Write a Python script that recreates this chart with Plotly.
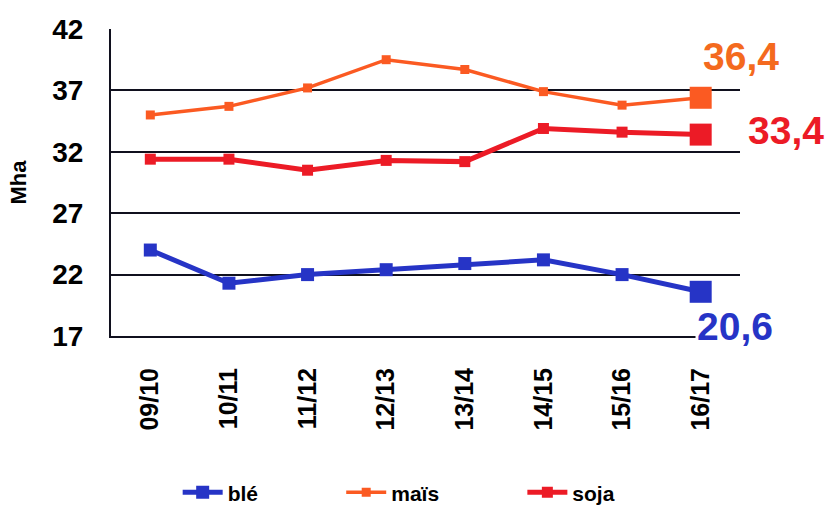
import plotly.graph_objects as go

# Surfaces cultivées (millions d'hectares) par campagne
campagnes = ["09/10", "10/11", "11/12", "12/13", "13/14", "14/15", "15/16", "16/17"]
ble = [24.0, 21.3, 22.0, 22.4, 22.9, 23.2, 22.0, 20.6]
mais = [35.0, 35.7, 37.2, 39.5, 38.7, 36.9, 35.8, 36.4]
soja = [31.4, 31.4, 30.5, 31.3, 31.2, 33.9, 33.6, 33.4]

y_ticks = [17, 22, 27, 32, 37, 42]

C_BLE = "#2634c6"
C_MAIS = "#fb5a22"
C_SOJA = "#ec1b26"
C_MAIS_TXT = "#f46a1e"
C_AXE = "#10101e"

FONT = "Liberation Sans, Arial, sans-serif"

series = [
    ("blé", ble, C_BLE, 5, 13, "legend"),
    ("maïs", mais, C_MAIS, 3.5, 9, "legend2"),
    ("soja", soja, C_SOJA, 5, 11, "legend3"),
]

fig = go.Figure()
for name, vals, col, lw, ms, lg in series:
    fig.add_trace(go.Scatter(
        x=campagnes, y=vals, name=name, mode="lines+markers",
        line=dict(color=col, width=lw),
        marker=dict(symbol="square", size=ms, color=col),
        legend=lg,
    ))
    # dernière campagne mise en valeur
    fig.add_trace(go.Scatter(
        x=campagnes[-1:], y=vals[-1:], mode="markers",
        marker=dict(symbol="square", size=22, color=col),
        showlegend=False, hoverinfo="skip",
    ))

# étiquettes des valeurs finales
labels = [
    (mais[-1], C_MAIS_TXT, 0, 41),
    (soja[-1], C_SOJA, 45, 4),
    (ble[-1], C_BLE, -6, -35),
]
for val, col, dx, dy in labels:
    fig.add_annotation(
        x=campagnes[-1], y=val, xref="x", yref="y",
        text=f"{val:.1f}".replace(".", ","), showarrow=False,
        xanchor="left", xshift=dx, yshift=dy,
        font=dict(family=FONT, size=39, color=col, weight="bold"),
        bgcolor="white",
    )

legend_common = dict(
    orientation="h", yref="container", yanchor="middle", y=0.032,
    xanchor="left",
    font=dict(family=FONT, size=21, color="black", weight="bold"),
    bgcolor="rgba(0,0,0,0)", itemwidth=40,
)
fig.update_layout(
    width=828, height=509,
    margin=dict(l=111, r=88, t=29, b=173, autoexpand=False),
    paper_bgcolor="white", plot_bgcolor="white",
    legend=dict(x=0.106, **legend_common),
    legend2=dict(x=0.366, **legend_common),
    legend3=dict(x=0.654, **legend_common),
    showlegend=True,
)
fig.update_xaxes(
    type="category", range=[-0.5, 7.5], tickangle=-90, automargin=False,
    showgrid=False, zeroline=False,
    showline=True, linecolor=C_AXE, linewidth=2,
    ticks="", ticklabelstandoff=20,
    tickfont=dict(family=FONT, size=25, color="black", weight="bold"),
)
fig.update_yaxes(
    range=[17, 42], tickvals=y_ticks, showgrid=True, automargin=False,
    gridcolor=C_AXE, gridwidth=2, zeroline=False,
    showline=True, linecolor=C_AXE, linewidth=2,
    ticks="", ticklabelstandoff=20,
    tickfont=dict(family=FONT, size=28, color="black", weight="bold"),
    title=dict(text="Mha", standoff=20,
               font=dict(family=FONT, size=22, color="black", weight="bold")),
)

fig.write_html("out.html")
